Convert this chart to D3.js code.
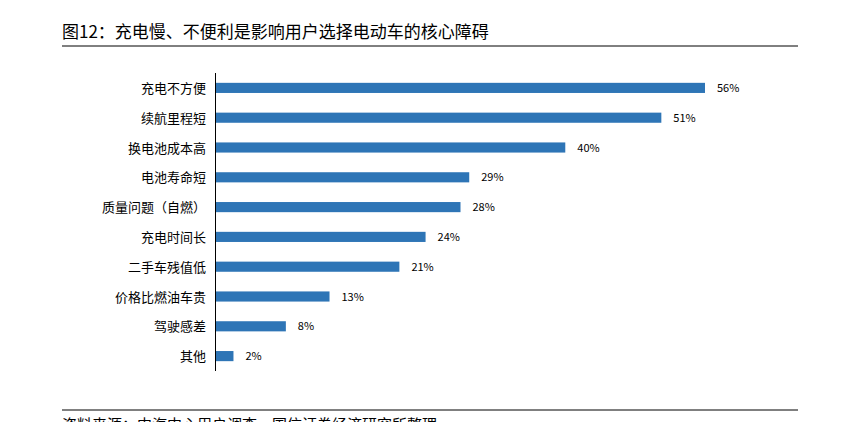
<!DOCTYPE html><html><head><meta charset="utf-8"><script src="https://cdn.jsdelivr.net/npm/d3@7"></script>
<style>body{margin:0;background:#fff}text{font-family:"Noto Sans CJK SC",sans-serif}</style></head><body><svg width="860" height="422"></svg><script>
const categories=["充电不方便","续航里程短","换电池成本高","电池寿命短","质量问题（自燃）","充电时间长","二手车残值低","价格比燃油车贵","驾驶感差","其他"];
const values=[56,51,40,29,28,24,21,13,8,2];
const svg=d3.select("svg");
svg.append("text").attr("x",62).attr("y",38).attr("font-size",17).attr("fill","#000").text("图12：充电慢、不便利是影响用户选择电动车的核心障碍");
svg.append("line").attr("x1",62).attr("x2",798).attr("y1",46).attr("y2",46).attr("stroke","#000").attr("stroke-width",1);
svg.append("line").attr("x1",62).attr("x2",798).attr("y1",410).attr("y2",410).attr("stroke","#000").attr("stroke-width",1);
svg.append("text").attr("x",62).attr("y",430).attr("font-size",15).text("资料来源：中汽中心用户调查，国信证券经济研究所整理");
const x=d3.scaleLinear().domain([0,56]).range([216,705]);
const y=d3.scaleBand().domain(categories).range([73,371]).paddingInner(0.66).paddingOuter(0.33);
svg.append("line").attr("x1",215.5).attr("x2",215.5).attr("y1",73).attr("y2",371).attr("stroke","#000");
svg.selectAll("rect").data(values).join("rect").attr("x",216).attr("y",(d,i)=>y(categories[i])).attr("width",d=>x(d)-216).attr("height",y.bandwidth()).attr("fill","#2e75b6");
svg.selectAll(".v").data(values).join("text").attr("x",d=>x(d)+12).attr("y",(d,i)=>y(categories[i])+y.bandwidth()/2+4).attr("font-size",11).text(d=>d+"%");
svg.selectAll(".c").data(categories).join("text").attr("x",206).attr("y",d=>y(d)+y.bandwidth()/2+5).attr("text-anchor","end").attr("font-size",13).text(d=>d);
</script></body></html>
